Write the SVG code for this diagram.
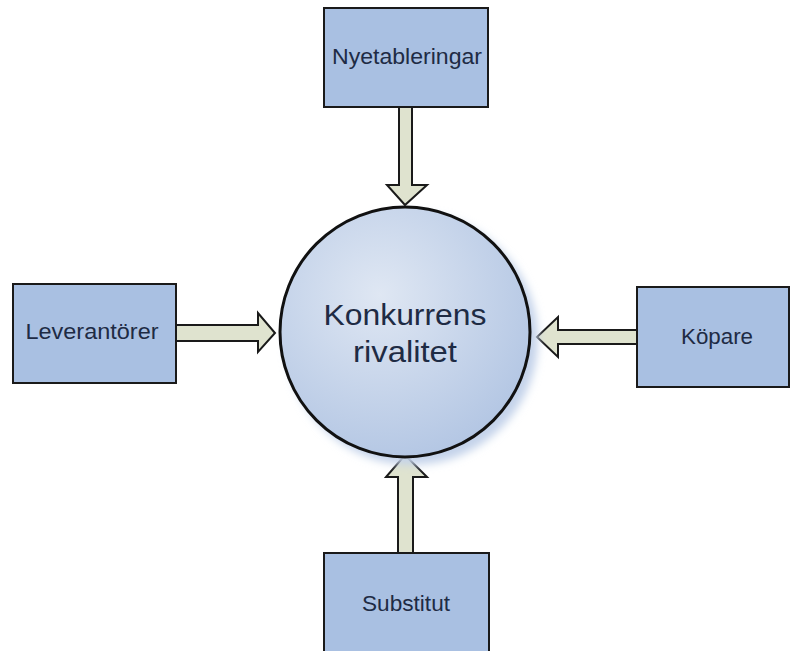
<svg xmlns="http://www.w3.org/2000/svg" width="792" height="651" viewBox="0 0 792 651">
<style>
.box{fill:#a9c0e2;stroke:#1a1a1a;stroke-width:2}
.lbl{font-family:"Liberation Sans",Arial,sans-serif;font-size:22px;fill:#1e2b44;text-anchor:middle}
.big{font-family:"Liberation Sans",Arial,sans-serif;font-size:30px;fill:#1e2b44;text-anchor:middle}
.arr{fill:#dfe3cf;stroke:#1a1a1a;stroke-width:2;stroke-linejoin:miter}
</style>
<defs>
<radialGradient id="cg" cx="0.4" cy="0.35" r="0.75">
<stop offset="0" stop-color="#dfe7f3"/>
<stop offset="1" stop-color="#afc3e2"/>
</radialGradient>
<filter id="blur" x="-20%" y="-20%" width="140%" height="140%"><feGaussianBlur stdDeviation="4"/></filter>
</defs>
<rect width="792" height="651" fill="#ffffff"/>
<g id="connectors">
<polygon class="arr" points="399,107 412,107 412,185 427,185 405,205 387,185 399,185"/>
<polygon class="arr" points="176,325 258,325 258,313 275,333 258,352 258,341 176,341"/>
<polygon class="arr" points="637,330 558,330 558,317 537,337 558,357 558,344 637,344"/>
<polygon class="arr" points="398,553 398,477 386,477 405,455 427,477 413,477 413,553"/>
</g>
<g id="center">
<circle cx="412" cy="339" r="126" fill="#c4d3ea" filter="url(#blur)"/>
<circle cx="405" cy="332" r="125" fill="url(#cg)" stroke="#111" stroke-width="3"/>
<text class="big" x="405" y="325" textLength="163" lengthAdjust="spacingAndGlyphs">Konkurrens</text>
<text class="big" x="405" y="362" textLength="104" lengthAdjust="spacingAndGlyphs">rivalitet</text>
</g>
<g id="nyetableringar">
<rect class="box" x="324" y="8" width="164" height="99"/>
<text class="lbl" x="407" y="64" textLength="150" lengthAdjust="spacingAndGlyphs">Nyetableringar</text>
</g>
<g id="leverantorer">
<rect class="box" x="13" y="284" width="163" height="99"/>
<text class="lbl" x="92" y="339" textLength="133" lengthAdjust="spacingAndGlyphs">Leverantörer</text>
</g>
<g id="kopare">
<rect class="box" x="637" y="287" width="152" height="100"/>
<text class="lbl" x="717" y="344" textLength="72" lengthAdjust="spacingAndGlyphs">Köpare</text>
</g>
<g id="substitut">
<rect class="box" x="324" y="553" width="165" height="105"/>
<text class="lbl" x="406" y="611" textLength="88" lengthAdjust="spacingAndGlyphs">Substitut</text>
</g>
</svg>
